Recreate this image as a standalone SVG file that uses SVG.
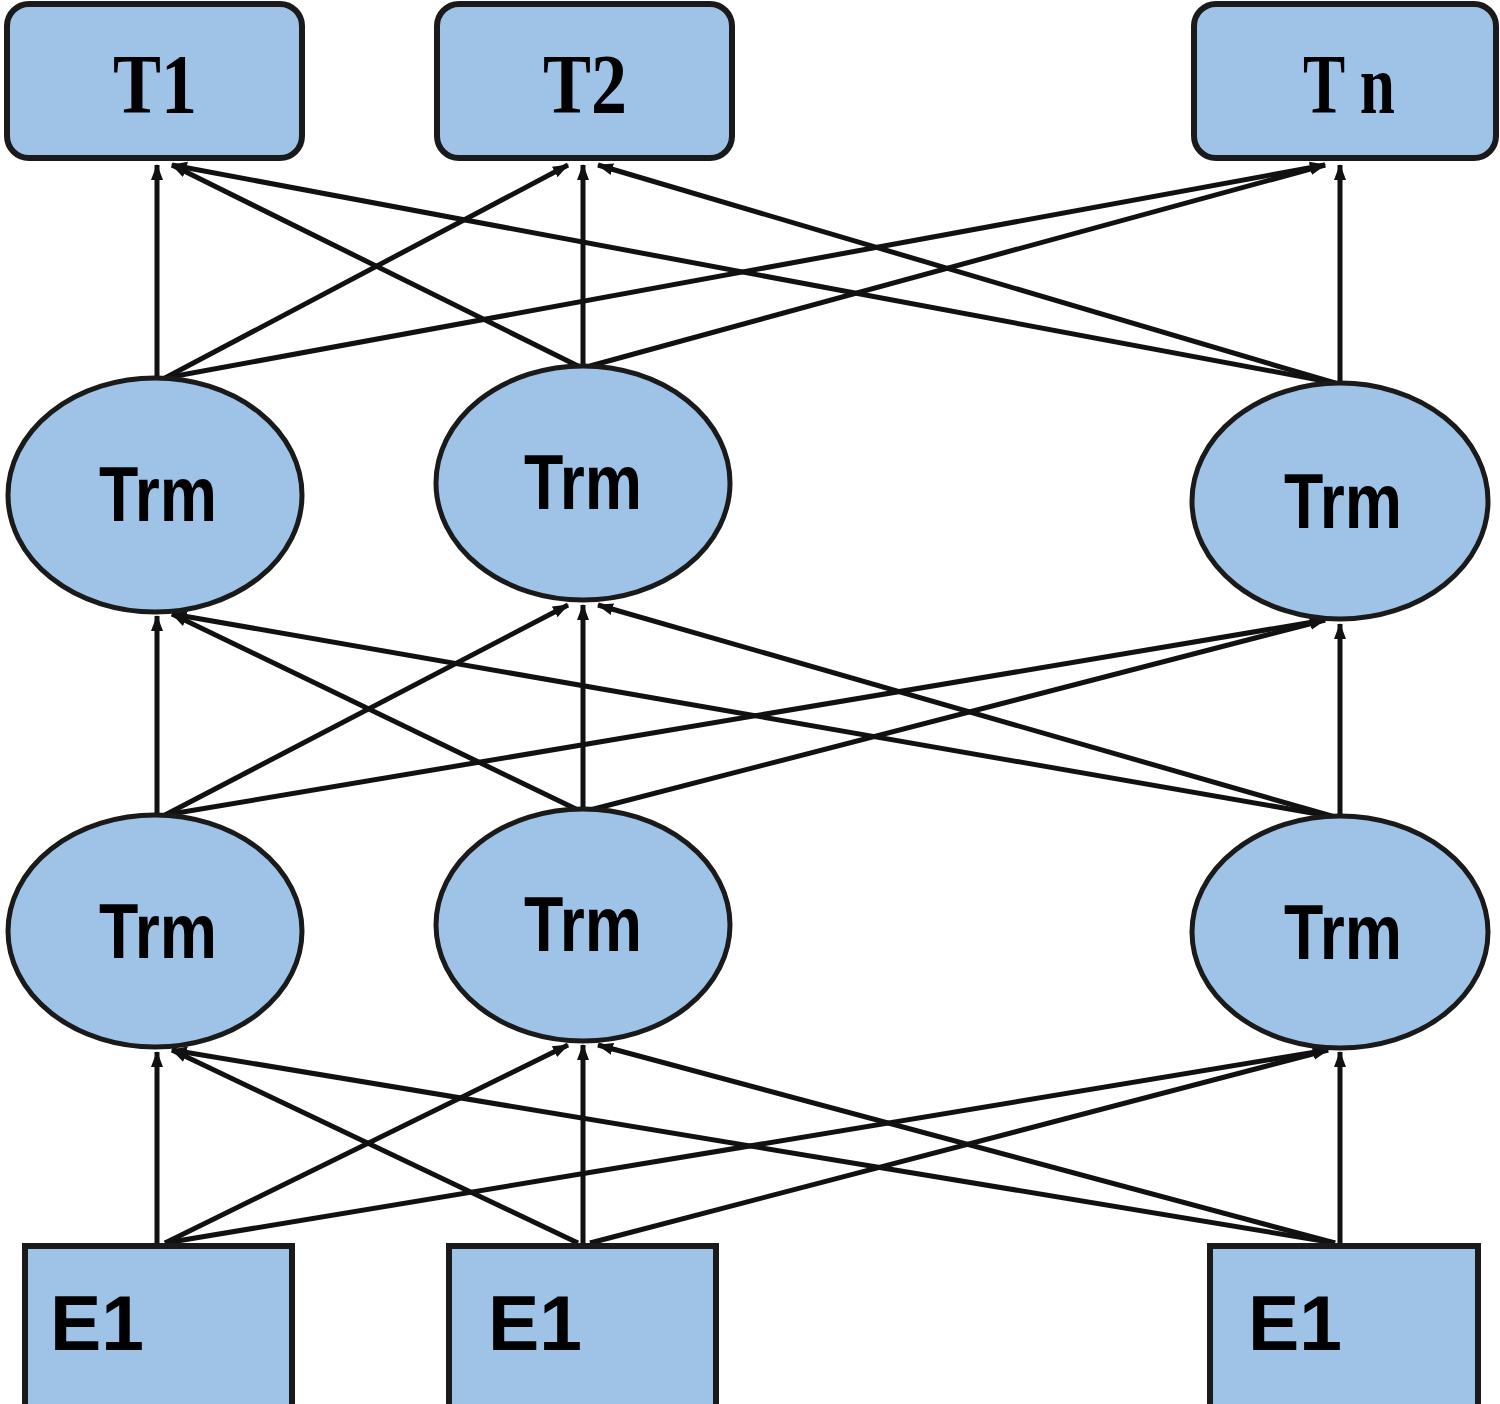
<svg xmlns="http://www.w3.org/2000/svg" width="1500" height="1404" viewBox="0 0 1500 1404">
<defs>
<style>
.box{fill:#9fc3e6;stroke:#1a1a1a;stroke-width:6}
.ell{fill:#9fc3e6;stroke:#1a1a1a;stroke-width:5}
.ttl{font-family:"Liberation Serif",serif;font-weight:bold;font-size:84px;fill:#000;text-anchor:middle}
.trm{font-family:"Liberation Sans",Arial,sans-serif;font-weight:bold;font-size:78px;fill:#000;text-anchor:middle}
.emb{font-family:"Liberation Sans",Arial,sans-serif;font-weight:bold;font-size:78px;fill:#000}
.con line{stroke:#111;stroke-width:5;marker-end:url(#ah)}
</style>
<marker id="ah" markerUnits="userSpaceOnUse" markerWidth="16" markerHeight="14" viewBox="0 0 16 14" refX="15" refY="7" orient="auto">
<path d="M0,1 L16,7 L0,13 Z" fill="#111"/>
</marker>
</defs>
<rect width="1500" height="1404" fill="#fff"/>

<g id="connectors" class="con">
<!-- E -> Trm row 2 -->
<line x1="157" y1="1243" x2="157" y2="1052"/>
<line x1="165" y1="1243" x2="568" y2="1045"/>
<line x1="165" y1="1243" x2="1328" y2="1050"/>
<line x1="578" y1="1243" x2="172" y2="1050"/>
<line x1="583" y1="1243" x2="583" y2="1045"/>
<line x1="590" y1="1243" x2="1328" y2="1050"/>
<line x1="1335" y1="1243" x2="172" y2="1050"/>
<line x1="1335" y1="1243" x2="598" y2="1045"/>
<line x1="1340" y1="1243" x2="1340" y2="1052"/>
<!-- Trm row 2 -> Trm row 1 -->
<line x1="157" y1="815" x2="157" y2="616"/>
<line x1="165" y1="815" x2="568" y2="605"/>
<line x1="165" y1="815" x2="1325" y2="620"/>
<line x1="578" y1="810" x2="172" y2="614"/>
<line x1="583" y1="810" x2="583" y2="605"/>
<line x1="590" y1="810" x2="1325" y2="620"/>
<line x1="1335" y1="817" x2="172" y2="614"/>
<line x1="1335" y1="817" x2="598" y2="605"/>
<line x1="1340" y1="817" x2="1340" y2="624"/>
<!-- Trm row 1 -> T -->
<line x1="157" y1="378" x2="157" y2="165"/>
<line x1="165" y1="378" x2="568" y2="165"/>
<line x1="165" y1="378" x2="1325" y2="165"/>
<line x1="578" y1="366" x2="172" y2="165"/>
<line x1="583" y1="366" x2="583" y2="165"/>
<line x1="590" y1="366" x2="1325" y2="165"/>
<line x1="1335" y1="383" x2="172" y2="165"/>
<line x1="1335" y1="383" x2="598" y2="165"/>
<line x1="1340" y1="383" x2="1340" y2="165"/>
</g>

<g id="T1"><rect class="box" x="7" y="4" width="295" height="154" rx="22"/><text class="ttl" x="155" y="113" textLength="84" lengthAdjust="spacingAndGlyphs">T1</text></g>
<g id="T2"><rect class="box" x="437" y="4" width="295" height="154" rx="22"/><text class="ttl" x="585" y="113" textLength="84" lengthAdjust="spacingAndGlyphs">T2</text></g>
<g id="Tn"><rect class="box" x="1194" y="4" width="302" height="154" rx="22"/><text class="ttl" x="1349" y="113" textLength="92" lengthAdjust="spacingAndGlyphs">T n</text></g>

<g id="trm1a"><ellipse class="ell" cx="155" cy="495" rx="147" ry="117"/><text class="trm" x="158" y="521" textLength="118" lengthAdjust="spacingAndGlyphs">Trm</text></g>
<g id="trm1b"><ellipse class="ell" cx="583" cy="483" rx="147" ry="117"/><text class="trm" x="583" y="509" textLength="118" lengthAdjust="spacingAndGlyphs">Trm</text></g>
<g id="trm1c"><ellipse class="ell" cx="1340" cy="501" rx="148" ry="118"/><text class="trm" x="1343" y="528" textLength="118" lengthAdjust="spacingAndGlyphs">Trm</text></g>

<g id="trm2a"><ellipse class="ell" cx="155" cy="931" rx="147" ry="116"/><text class="trm" x="158" y="958" textLength="118" lengthAdjust="spacingAndGlyphs">Trm</text></g>
<g id="trm2b"><ellipse class="ell" cx="583" cy="925" rx="147" ry="116"/><text class="trm" x="583" y="951" textLength="118" lengthAdjust="spacingAndGlyphs">Trm</text></g>
<g id="trm2c"><ellipse class="ell" cx="1340" cy="932" rx="148" ry="116"/><text class="trm" x="1343" y="959" textLength="118" lengthAdjust="spacingAndGlyphs">Trm</text></g>

<g id="E1a"><rect class="box" x="25" y="1246" width="267" height="170"/><text class="emb" x="50" y="1350" textLength="94" lengthAdjust="spacingAndGlyphs">E1</text></g>
<g id="E1b"><rect class="box" x="449" y="1246" width="267" height="170"/><text class="emb" x="488" y="1350" textLength="94" lengthAdjust="spacingAndGlyphs">E1</text></g>
<g id="E1c"><rect class="box" x="1210" y="1246" width="268" height="170"/><text class="emb" x="1248" y="1350" textLength="94" lengthAdjust="spacingAndGlyphs">E1</text></g>
</svg>
